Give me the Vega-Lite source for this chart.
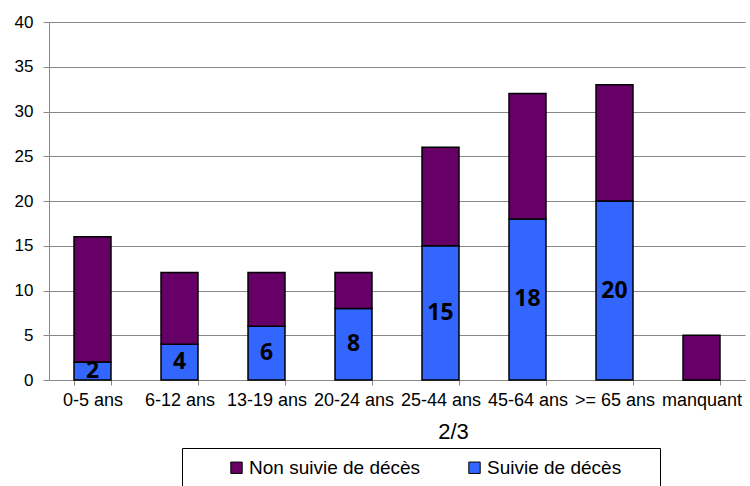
{
  "$schema": "https://vega.github.io/schema/vega-lite/v6.json",
  "width": 696,
  "height": 358,
  "autosize": "none",
  "padding": {"left": 49, "top": 22, "right": 5, "bottom": 106},
  "background": "white",
  "config": {
    "view": {"stroke": null},
    "font": "Liberation Sans",
    "legend": {"strokeColor": "black"}
  },
  "data": {
    "values": [
      {"age": "0-5 ans", "statut": "Suivie de décès", "n": 2, "ord": 1},
      {"age": "0-5 ans", "statut": "Non suivie de décès", "n": 14, "ord": 2},
      {"age": "6-12 ans", "statut": "Suivie de décès", "n": 4, "ord": 1},
      {"age": "6-12 ans", "statut": "Non suivie de décès", "n": 8, "ord": 2},
      {"age": "13-19 ans", "statut": "Suivie de décès", "n": 6, "ord": 1},
      {"age": "13-19 ans", "statut": "Non suivie de décès", "n": 6, "ord": 2},
      {"age": "20-24 ans", "statut": "Suivie de décès", "n": 8, "ord": 1},
      {"age": "20-24 ans", "statut": "Non suivie de décès", "n": 4, "ord": 2},
      {"age": "25-44 ans", "statut": "Suivie de décès", "n": 15, "ord": 1},
      {"age": "25-44 ans", "statut": "Non suivie de décès", "n": 11, "ord": 2},
      {"age": "45-64 ans", "statut": "Suivie de décès", "n": 18, "ord": 1},
      {"age": "45-64 ans", "statut": "Non suivie de décès", "n": 14, "ord": 2},
      {"age": ">= 65 ans", "statut": "Suivie de décès", "n": 20, "ord": 1},
      {"age": ">= 65 ans", "statut": "Non suivie de décès", "n": 13, "ord": 2},
      {"age": "manquant", "statut": "Suivie de décès", "n": 0, "ord": 1},
      {"age": "manquant", "statut": "Non suivie de décès", "n": 5, "ord": 2}
    ]
  },
  "encoding": {
    "x": {
      "field": "age",
      "type": "nominal",
      "sort": null,
      "title": "2/3",
      "scale": {"paddingInner": 0.575, "paddingOuter": 0.2875},
      "axis": {
        "labelAngle": 0,
        "labelFontSize": 18,
        "labelColor": "black",
        "labelPadding": 6,
        "labelOverlap": false,
        "labelBound": false,
        "tickBand": "extent",
        "tickColor": "#888888",
        "tickSize": 5,
        "domainColor": "#888888",
        "titleFontSize": 22,
        "titleFontWeight": "normal",
        "titleColor": "black",
        "titlePadding": 12,
        "titleX": 404,
        "titleAnchor": "middle"
      }
    },
    "y": {
      "field": "n",
      "type": "quantitative",
      "stack": "zero",
      "title": null,
      "scale": {"domain": [0, 40], "nice": false},
      "axis": {
        "values": [0, 5, 10, 15, 20, 25, 30, 35, 40],
        "labelFontSize": 17,
        "labelColor": "black",
        "labelPadding": 10,
        "tickColor": "#888888",
        "tickSize": 6,
        "domainColor": "#888888",
        "gridColor": "#888888"
      }
    },
    "order": {"field": "ord", "type": "quantitative"}
  },
  "layer": [
    {
      "mark": {"type": "bar", "stroke": "black", "strokeWidth": 1.5},
      "encoding": {
        "color": {
          "field": "statut",
          "type": "nominal",
          "scale": {
            "domain": ["Non suivie de décès", "Suivie de décès"],
            "range": ["#660066", "#3366FF"]
          },
          "legend": {
            "title": "\u00a0",
            "titleOrient": "right",
            "titlePadding": 29,
            "titleFontSize": 10,
            "orient": "none",
            "legendX": 133,
            "legendY": 426,
            "direction": "horizontal",
            "columns": 2,
            "columnPadding": 9,
            "symbolType": "square",
            "symbolSize": 130,
            "symbolOffset": 35,
            "symbolStrokeColor": "black",
            "symbolStrokeWidth": 1,
            "labelFontSize": 19,
            "labelLimit": 400,
            "labelColor": "black",
            "labelOffset": 3,
            "strokeColor": "black",
            "padding": 10,
            "offset": 0
          }
        }
      }
    },
    {
      "transform": [{"filter": "datum.statut == 'Suivie de décès' && datum.n > 0"}],
      "mark": {"type": "text", "font": "Open Sans", "fontWeight": "bold", "fontSize": 23, "color": "black", "baseline": "middle"},
      "encoding": {
        "y": {"field": "n", "type": "quantitative", "bandPosition": 0.5, "stack": "zero"},
        "text": {"field": "n", "type": "quantitative"}
      }
    }
  ]
}
